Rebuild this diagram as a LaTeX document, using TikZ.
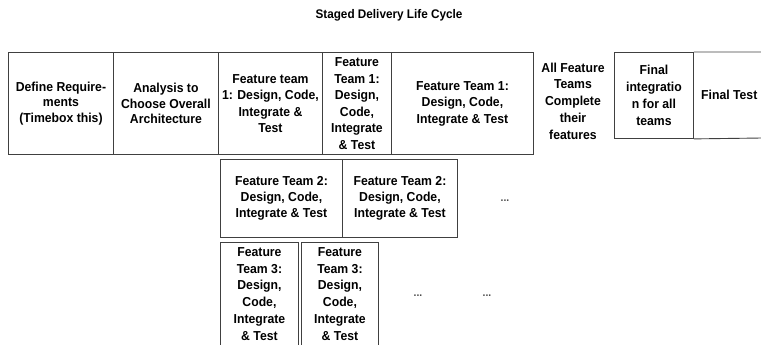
\documentclass[tikz,border=0pt]{standalone}
\usepackage{fontspec}
\setmainfont{Liberation Sans}[FakeStretch=0.94]
\begin{document}
\begin{tikzpicture}[x=1pt,y=-1pt,
  box/.style={draw=black!75, line width=0.9pt, rectangle, anchor=north west, inner sep=0pt, align=center,
    font=\bfseries\fontsize{13}{16.5}\selectfont},
  txt/.style={inner sep=0pt, align=center, font=\bfseries\fontsize{13}{16.7}\selectfont},
  dots/.style={inner sep=0pt, font=\bfseries\fontsize{11}{12}\selectfont, text=black!70}]
\useasboundingbox (0,0) rectangle (761,345);
\node[txt, font=\bfseries\fontsize{12.5}{15}\selectfont] (title) at (389,15) {Staged Delivery Life Cycle};
% row 1
\node[box, minimum width=105, minimum height=102, font=\bfseries\fontsize{13}{15.5}\selectfont] (a) at (8,52) {Define Require-\\ments\\(Timebox this)};
\node[box, minimum width=105, minimum height=102, font=\bfseries\fontsize{13}{15.5}\selectfont] (b) at (113,52) {Analysis to\\Choose Overall\\Architecture};
\node[box, minimum width=104, minimum height=102] (c) at (218,52) {Feature team\\1: Design, Code,\\Integrate \&\\Test};
\node[box, minimum width=69, minimum height=102] (d) at (322,52) {Feature\\Team 1:\\Design,\\Code,\\Integrate\\\& Test};
\node[box, minimum width=142, minimum height=102] (e) at (391,52) {Feature Team 1:\\Design, Code,\\Integrate \& Test};
\node[txt] (all) at (573,101) {All Feature\\Teams\\Complete\\their\\features};
\node[box, minimum width=79, minimum height=86, font=\bfseries\fontsize{13}{17}\selectfont] (f) at (614,52) {Final\\integratio\\n for all\\teams};
\coordinate (gtr) at (762,52);
\coordinate (gbr) at (762,138);
\draw[draw=black!75, line width=0.9pt] (f.north east) -- (gtr) (f.south east) -- (gbr);
\node[txt, anchor=west] (g) at (701,95) {Final Test};
% row 2
\node[box, minimum width=122, minimum height=78, font=\bfseries\fontsize{13}{16}\selectfont] (h) at (220,159) {Feature Team 2:\\Design, Code,\\Integrate \& Test};
\node[box, minimum width=115, minimum height=78, font=\bfseries\fontsize{13}{16}\selectfont] (i) at (342,159) {Feature Team 2:\\Design, Code,\\Integrate \& Test};
\node[dots] (d2) at (505,201) {...};
% row 3
\node[box, minimum width=78, minimum height=103, font=\bfseries\fontsize{13}{16.8}\selectfont] (j) at (220,242) {Feature\\Team 3:\\Design,\\Code,\\Integrate\\\& Test};
\node[box, minimum width=77, minimum height=103, font=\bfseries\fontsize{13}{16.8}\selectfont] (k) at (301,242) {Feature\\Team 3:\\Design,\\Code,\\Integrate\\\& Test};
\node[dots] (d3) at (418,296) {...};
\node[dots] (d4) at (487,296) {...};
\end{tikzpicture}
\end{document}
